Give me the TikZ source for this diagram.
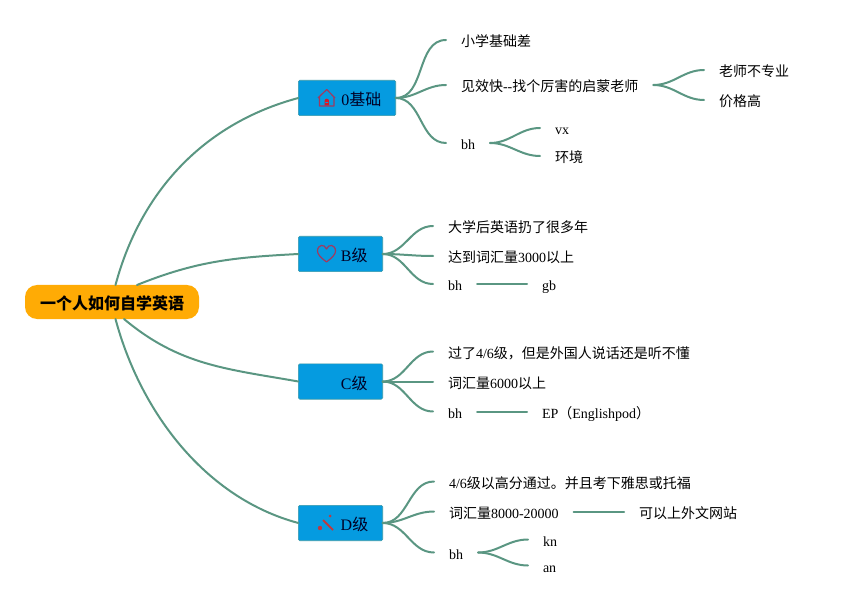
\documentclass[tikz,border=0pt]{standalone}
\usepackage{xcolor}
\usepackage{fontspec}
\setmainfont{Liberation Serif}
\newfontfamily\cjk{Noto Sans CJK SC}
\definecolor{linegreen}{HTML}{5A9682}
\definecolor{boxblue}{HTML}{059BE0}
\definecolor{rootorange}{HTML}{FFAB05}
\definecolor{iconred}{HTML}{A03A60}
\definecolor{wandred}{HTML}{BE3A40}
\tikzset{
  rootbox/.style={fill=rootorange,rounded corners=9pt,minimum width=130.5pt,minimum height=25.5pt,inner sep=0pt,outer sep=0pt,text height=11pt,text depth=0pt,font=\bfseries\fontsize{12}{14}\selectfont},
  mainbox/.style={fill=boxblue,draw=linegreen!60!boxblue,line width=.5pt,rounded corners=1pt,minimum height=26.5pt,inner sep=0pt,outer sep=0pt,text height=11.5pt,text depth=0pt,font=\fontsize{12}{14}\selectfont,text=black!85!blue},
  leaf/.style={anchor=west,inner xsep=11.25pt,inner ysep=2pt,outer sep=0pt,text height=10.5pt,text depth=.5pt,font=\fontsize{10.5}{12}\selectfont},
  branch/.style={draw=linegreen,line width=1.5pt,line cap=round},
  icon/.style={draw=iconred,line width=.9pt,line join=round}
}
\begin{document}
\begin{tikzpicture}[x=0.75pt,y=0.75pt]
  \useasboundingbox (0,0) rectangle (849,604);
  % main boxes
  \node[rootbox] (root) at (112,302) {{\cjk\bfseries 一个人如何自学英语}};
  \node[mainbox,minimum width=73pt] (zero) at (347,506) {\hspace*{21.5pt}0{\cjk 基础}};
  \node[mainbox,minimum width=63.25pt] (levelB) at (340.5,350) {\hspace*{20.5pt}B{\cjk 级}};
  \node[mainbox,minimum width=63.25pt] (levelC) at (340.5,222.5) {\hspace*{20.5pt}C{\cjk 级}};
  \node[mainbox,minimum width=63.25pt] (levelD) at (340.5,81) {\hspace*{21pt}D{\cjk 级}};
  \coordinate (rootZ) at (115.5,319); \coordinate (rootB) at (137,319);
  \coordinate (rootC) at (124,285); \coordinate (rootD) at (115.5,285);
  % leaves
  \node[leaf] (zeroA) at (446,564) {{\cjk 小学基础差}};
  \node[leaf] (zeroB) at (446,519) {{\cjk 见效快}-{}-{\cjk 找个厉害的启蒙老师}};
  \node[leaf] (zeroC) at (446,461) {bh};
  \node[leaf] (zeroBa) at (704,534) {{\cjk 老师不专业}};
  \node[leaf] (zeroBb) at (704,504) {{\cjk 价格高}};
  \node[leaf] (zeroCa) at (540,476) {vx};
  \node[leaf] (zeroCb) at (540,448) {{\cjk 环境}};
  \node[leaf] (levelBa) at (433,378) {{\cjk 大学后英语扔了很多年}};
  \node[leaf] (levelBb) at (433,348) {{\cjk 达到词汇量}3000{\cjk 以上}};
  \node[leaf] (levelBc) at (433,320) {bh};
  \node[leaf] (levelBd) at (527,320) {gb};
  \node[leaf] (levelCa) at (433,252.5) {{\cjk 过了}4/6{\cjk 级，但是外国人说话还是听不懂}};
  \node[leaf] (levelCb) at (433,222.5) {{\cjk 词汇量}6000{\cjk 以上}};
  \node[leaf] (levelCc) at (433,192.5) {bh};
  \node[leaf] (levelCd) at (527,192.5) {EP{\cjk （}Englishpod{\cjk ）}};
  \node[leaf] (levelDa) at (434,122.5) {4/6{\cjk 级以高分通过。并且考下雅思或托福}};
  \node[leaf] (levelDb) at (434,92.5) {{\cjk 词汇量}8000-20000};
  \node[leaf] (levelDc) at (434,51.5) {bh};
  \node[leaf] (levelDd) at (624,92.5) {{\cjk 可以上外文网站}};
  \node[leaf] (levelDe) at (528,64.5) {kn};
  \node[leaf] (levelDf) at (528,38.5) {an};
  % root connectors
  \draw[branch] (rootZ) to[out=75,in=195,looseness=.95] (zero.west);
  \draw[branch] (rootB) to[out=22,in=183] (levelB.west);
  \draw[branch] (rootC) to[out=-40,in=170] (levelC.west);
  \draw[branch] (rootD) to[out=-75,in=165,looseness=.9] (levelD.west);
  % branch connectors
  \foreach \from/\to in {zero/zeroA,zero/zeroB,zero/zeroC,zeroB/zeroBa,zeroB/zeroBb,zeroC/zeroCa,zeroC/zeroCb,
    levelB/levelBa,levelB/levelBb,levelB/levelBc,levelC/levelCa,levelC/levelCb,levelC/levelCc,
    levelD/levelDa,levelD/levelDb,levelD/levelDc,levelDc/levelDe,levelDc/levelDf}
    \draw[branch] (\from.east) to[out=0,in=180] (\to.west);
  \draw[branch] (levelBc.east)--(levelBd.west);
  \draw[branch] (levelCc.east)--(levelCd.west);
  \draw[branch] (levelDb.east)--(levelDd.west);
  % icons
  \draw[icon] (318,506) -- (326.7,514.5) -- (335,506) (319.5,507) -- (319.5,498) -- (334,498) -- (334,507);
  \fill[red!60!iconred] (324.5,498.5) rectangle (329,502) (326.8,503) circle(2.3);
  \draw[icon] (326.5,342) .. controls (320,347) and (317.5,350) .. (317.5,353) .. controls (317.5,359.5) and (324.5,360.5) .. (326.5,355) .. controls (328.5,360.5) and (335.5,359.5) .. (335.5,353) .. controls (335.5,350) and (333,347) .. (326.5,342) -- cycle;
  \draw[draw=wandred,line width=1.5pt] (323,84) -- (333,74);
  \fill[wandred] (320,76) circle(2.2) (330,88) circle(1.5);
\end{tikzpicture}
\end{document}
